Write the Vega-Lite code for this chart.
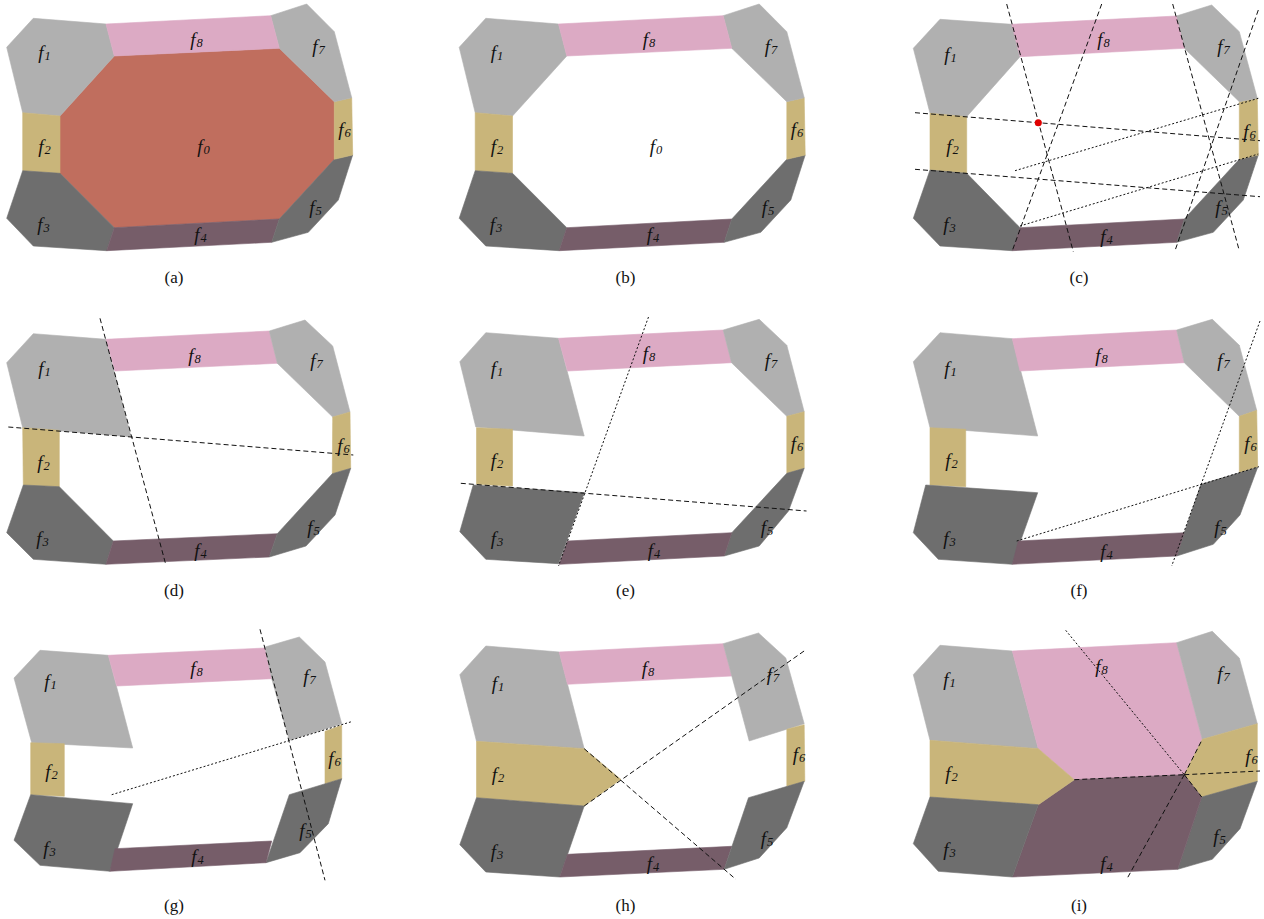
{
"$schema": "https://vega.github.io/schema/vega-lite/v6.json",
"padding": 0,
"background": "white",
"config": {"view": {"stroke": null},
  "header": {"labels": false, "labelExpr": "''", "labelFontSize": 0, "labelPadding": 0, "labelColor": "transparent", "title": null, "titleFontSize": 0, "titlePadding": 0},
  "headerFacet": {"labels": false, "labelExpr": "''", "labelFontSize": 0, "labelPadding": 0, "labelColor": "transparent", "titleFontSize": 0, "titlePadding": 0}},
"data": {"values": [
{"k":"P","p":"a","g":"f0","o":0,"x":114.3,"y":56},{"k":"P","p":"a","g":"f0","o":1,"x":279.3,"y":48.3},{"k":"P","p":"a","g":"f0","o":2,"x":334.3,"y":101.7},{"k":"P","p":"a","g":"f0","o":3,"x":334.3,"y":159.3},{"k":"P","p":"a","g":"f0","o":4,"x":279.3,"y":219},{"k":"P","p":"a","g":"f0","o":5,"x":114.3,"y":227.7},{"k":"P","p":"a","g":"f0","o":6,"x":60,"y":173.3},{"k":"P","p":"a","g":"f0","o":7,"x":60,"y":116},
{"k":"P","p":"a","g":"f1","o":0,"x":33.3,"y":18.3},{"k":"P","p":"a","g":"f1","o":1,"x":106,"y":24},{"k":"P","p":"a","g":"f1","o":2,"x":114.3,"y":56},{"k":"P","p":"a","g":"f1","o":3,"x":60,"y":116},{"k":"P","p":"a","g":"f1","o":4,"x":22.7,"y":112.7},{"k":"P","p":"a","g":"f1","o":5,"x":6.7,"y":47.3},
{"k":"P","p":"a","g":"f2","o":0,"x":22.7,"y":112.7},{"k":"P","p":"a","g":"f2","o":1,"x":60,"y":116},{"k":"P","p":"a","g":"f2","o":2,"x":60,"y":173.3},{"k":"P","p":"a","g":"f2","o":3,"x":22.7,"y":170.7},
{"k":"P","p":"a","g":"f3","o":0,"x":22.7,"y":170.7},{"k":"P","p":"a","g":"f3","o":1,"x":60,"y":173.3},{"k":"P","p":"a","g":"f3","o":2,"x":114.3,"y":227.7},{"k":"P","p":"a","g":"f3","o":3,"x":106.7,"y":250.7},{"k":"P","p":"a","g":"f3","o":4,"x":33.3,"y":246},{"k":"P","p":"a","g":"f3","o":5,"x":6.7,"y":218.3},
{"k":"P","p":"a","g":"f4","o":0,"x":114.3,"y":227.7},{"k":"P","p":"a","g":"f4","o":1,"x":279.3,"y":219},{"k":"P","p":"a","g":"f4","o":2,"x":271.7,"y":242.3},{"k":"P","p":"a","g":"f4","o":3,"x":106.7,"y":250.7},
{"k":"P","p":"a","g":"f5","o":0,"x":334.3,"y":159.3},{"k":"P","p":"a","g":"f5","o":1,"x":352.7,"y":155},{"k":"P","p":"a","g":"f5","o":2,"x":338.3,"y":200},{"k":"P","p":"a","g":"f5","o":3,"x":308.3,"y":232.3},{"k":"P","p":"a","g":"f5","o":4,"x":271.7,"y":242.3},{"k":"P","p":"a","g":"f5","o":5,"x":279.3,"y":219},
{"k":"P","p":"a","g":"f6","o":0,"x":334.3,"y":101.7},{"k":"P","p":"a","g":"f6","o":1,"x":351.7,"y":97.7},{"k":"P","p":"a","g":"f6","o":2,"x":352.7,"y":155},{"k":"P","p":"a","g":"f6","o":3,"x":334.3,"y":159.3},
{"k":"P","p":"a","g":"f7","o":0,"x":270.7,"y":15.7},{"k":"P","p":"a","g":"f7","o":1,"x":306.7,"y":4},{"k":"P","p":"a","g":"f7","o":2,"x":334.3,"y":31.7},{"k":"P","p":"a","g":"f7","o":3,"x":351.7,"y":97.7},{"k":"P","p":"a","g":"f7","o":4,"x":334.3,"y":101.7},{"k":"P","p":"a","g":"f7","o":5,"x":279.3,"y":48.3},
{"k":"P","p":"a","g":"f8","o":0,"x":106,"y":24},{"k":"P","p":"a","g":"f8","o":1,"x":270.7,"y":15.7},{"k":"P","p":"a","g":"f8","o":2,"x":279.3,"y":48.3},{"k":"P","p":"a","g":"f8","o":3,"x":114.3,"y":56},

{"k":"P","p":"b","g":"f1","o":0,"x":33.3,"y":18.3},{"k":"P","p":"b","g":"f1","o":1,"x":106,"y":24},{"k":"P","p":"b","g":"f1","o":2,"x":114.3,"y":56},{"k":"P","p":"b","g":"f1","o":3,"x":60,"y":116},{"k":"P","p":"b","g":"f1","o":4,"x":22.7,"y":112.7},{"k":"P","p":"b","g":"f1","o":5,"x":6.7,"y":47.3},
{"k":"P","p":"b","g":"f2","o":0,"x":22.7,"y":112.7},{"k":"P","p":"b","g":"f2","o":1,"x":60,"y":116},{"k":"P","p":"b","g":"f2","o":2,"x":60,"y":173.3},{"k":"P","p":"b","g":"f2","o":3,"x":22.7,"y":170.7},
{"k":"P","p":"b","g":"f3","o":0,"x":22.7,"y":170.7},{"k":"P","p":"b","g":"f3","o":1,"x":60,"y":173.3},{"k":"P","p":"b","g":"f3","o":2,"x":114.3,"y":227.7},{"k":"P","p":"b","g":"f3","o":3,"x":106.7,"y":250.7},{"k":"P","p":"b","g":"f3","o":4,"x":33.3,"y":246},{"k":"P","p":"b","g":"f3","o":5,"x":6.7,"y":218.3},
{"k":"P","p":"b","g":"f4","o":0,"x":114.3,"y":227.7},{"k":"P","p":"b","g":"f4","o":1,"x":279.3,"y":219},{"k":"P","p":"b","g":"f4","o":2,"x":271.7,"y":242.3},{"k":"P","p":"b","g":"f4","o":3,"x":106.7,"y":250.7},
{"k":"P","p":"b","g":"f5","o":0,"x":334.3,"y":159.3},{"k":"P","p":"b","g":"f5","o":1,"x":352.7,"y":155},{"k":"P","p":"b","g":"f5","o":2,"x":338.3,"y":200},{"k":"P","p":"b","g":"f5","o":3,"x":308.3,"y":232.3},{"k":"P","p":"b","g":"f5","o":4,"x":271.7,"y":242.3},{"k":"P","p":"b","g":"f5","o":5,"x":279.3,"y":219},
{"k":"P","p":"b","g":"f6","o":0,"x":334.3,"y":101.7},{"k":"P","p":"b","g":"f6","o":1,"x":351.7,"y":97.7},{"k":"P","p":"b","g":"f6","o":2,"x":352.7,"y":155},{"k":"P","p":"b","g":"f6","o":3,"x":334.3,"y":159.3},
{"k":"P","p":"b","g":"f7","o":0,"x":270.7,"y":15.7},{"k":"P","p":"b","g":"f7","o":1,"x":306.7,"y":4},{"k":"P","p":"b","g":"f7","o":2,"x":334.3,"y":31.7},{"k":"P","p":"b","g":"f7","o":3,"x":351.7,"y":97.7},{"k":"P","p":"b","g":"f7","o":4,"x":334.3,"y":101.7},{"k":"P","p":"b","g":"f7","o":5,"x":279.3,"y":48.3},
{"k":"P","p":"b","g":"f8","o":0,"x":106,"y":24},{"k":"P","p":"b","g":"f8","o":1,"x":270.7,"y":15.7},{"k":"P","p":"b","g":"f8","o":2,"x":279.3,"y":48.3},{"k":"P","p":"b","g":"f8","o":3,"x":114.3,"y":56},

{"k":"P","p":"c","g":"f1","o":0,"x":35,"y":19.3},{"k":"P","p":"c","g":"f1","o":1,"x":106.7,"y":24.3},{"k":"P","p":"c","g":"f1","o":2,"x":115,"y":56.7},{"k":"P","p":"c","g":"f1","o":3,"x":61.7,"y":116.7},{"k":"P","p":"c","g":"f1","o":4,"x":25,"y":113.3},{"k":"P","p":"c","g":"f1","o":5,"x":8.3,"y":48.3},
{"k":"P","p":"c","g":"f2","o":0,"x":25,"y":113.3},{"k":"P","p":"c","g":"f2","o":1,"x":61.7,"y":116.7},{"k":"P","p":"c","g":"f2","o":2,"x":61.7,"y":173.3},{"k":"P","p":"c","g":"f2","o":3,"x":25,"y":170},
{"k":"P","p":"c","g":"f3","o":0,"x":25,"y":170},{"k":"P","p":"c","g":"f3","o":1,"x":61.7,"y":173.3},{"k":"P","p":"c","g":"f3","o":2,"x":115,"y":227.7},{"k":"P","p":"c","g":"f3","o":3,"x":107.3,"y":250.7},{"k":"P","p":"c","g":"f3","o":4,"x":35,"y":246},{"k":"P","p":"c","g":"f3","o":5,"x":8.3,"y":218.3},
{"k":"P","p":"c","g":"f4","o":0,"x":115,"y":227.7},{"k":"P","p":"c","g":"f4","o":1,"x":279.3,"y":219},{"k":"P","p":"c","g":"f4","o":2,"x":271.7,"y":242.3},{"k":"P","p":"c","g":"f4","o":3,"x":107.3,"y":250.7},
{"k":"P","p":"c","g":"f5","o":0,"x":334.3,"y":159.3},{"k":"P","p":"c","g":"f5","o":1,"x":353.3,"y":155},{"k":"P","p":"c","g":"f5","o":2,"x":338.3,"y":200},{"k":"P","p":"c","g":"f5","o":3,"x":308.3,"y":232.3},{"k":"P","p":"c","g":"f5","o":4,"x":271.7,"y":242.3},{"k":"P","p":"c","g":"f5","o":5,"x":279.3,"y":219},
{"k":"P","p":"c","g":"f6","o":0,"x":334.3,"y":101.7},{"k":"P","p":"c","g":"f6","o":1,"x":352.3,"y":98.3},{"k":"P","p":"c","g":"f6","o":2,"x":353.3,"y":155},{"k":"P","p":"c","g":"f6","o":3,"x":334.3,"y":159.3},
{"k":"P","p":"c","g":"f7","o":0,"x":271.3,"y":16},{"k":"P","p":"c","g":"f7","o":1,"x":306.7,"y":5},{"k":"P","p":"c","g":"f7","o":2,"x":334.3,"y":31.7},{"k":"P","p":"c","g":"f7","o":3,"x":352.3,"y":98.3},{"k":"P","p":"c","g":"f7","o":4,"x":334.3,"y":101.7},{"k":"P","p":"c","g":"f7","o":5,"x":279.3,"y":48.3},
{"k":"P","p":"c","g":"f8","o":0,"x":106.7,"y":24.3},{"k":"P","p":"c","g":"f8","o":1,"x":271.3,"y":16},{"k":"P","p":"c","g":"f8","o":2,"x":279.3,"y":48.3},{"k":"P","p":"c","g":"f8","o":3,"x":115,"y":56.7},

{"k":"P","p":"d","g":"f1","o":0,"x":33.3,"y":22.7},{"k":"P","p":"d","g":"f1","o":1,"x":106,"y":28.3},{"k":"P","p":"d","g":"f1","o":2,"x":131,"y":125.7},{"k":"P","p":"d","g":"f1","o":3,"x":22.7,"y":116.7},{"k":"P","p":"d","g":"f1","o":4,"x":6.7,"y":51.7},
{"k":"P","p":"d","g":"f8","o":0,"x":106,"y":28.3},{"k":"P","p":"d","g":"f8","o":1,"x":269.3,"y":20},{"k":"P","p":"d","g":"f8","o":2,"x":277.3,"y":52.3},{"k":"P","p":"d","g":"f8","o":3,"x":115,"y":60},
{"k":"P","p":"d","g":"f7","o":0,"x":269.3,"y":20},{"k":"P","p":"d","g":"f7","o":1,"x":305,"y":9},{"k":"P","p":"d","g":"f7","o":2,"x":332.7,"y":35},{"k":"P","p":"d","g":"f7","o":3,"x":350,"y":101},{"k":"P","p":"d","g":"f7","o":4,"x":332.7,"y":106},{"k":"P","p":"d","g":"f7","o":5,"x":277.3,"y":52.3},
{"k":"P","p":"d","g":"f6","o":0,"x":332.7,"y":106},{"k":"P","p":"d","g":"f6","o":1,"x":350,"y":101},{"k":"P","p":"d","g":"f6","o":2,"x":350.7,"y":157.3},{"k":"P","p":"d","g":"f6","o":3,"x":332.3,"y":162.7},
{"k":"P","p":"d","g":"f2","o":0,"x":22.7,"y":116.7},{"k":"P","p":"d","g":"f2","o":1,"x":59.3,"y":119.3},{"k":"P","p":"d","g":"f2","o":2,"x":59.3,"y":175.7},{"k":"P","p":"d","g":"f2","o":3,"x":23.3,"y":174},
{"k":"P","p":"d","g":"f3","o":0,"x":23.3,"y":174},{"k":"P","p":"d","g":"f3","o":1,"x":59.3,"y":175.7},{"k":"P","p":"d","g":"f3","o":2,"x":113.3,"y":230},{"k":"P","p":"d","g":"f3","o":3,"x":106,"y":253.3},{"k":"P","p":"d","g":"f3","o":4,"x":33.3,"y":248.3},{"k":"P","p":"d","g":"f3","o":5,"x":6.7,"y":221.7},
{"k":"P","p":"d","g":"f4","o":0,"x":113.3,"y":230},{"k":"P","p":"d","g":"f4","o":1,"x":277.3,"y":222.7},{"k":"P","p":"d","g":"f4","o":2,"x":269.3,"y":246},{"k":"P","p":"d","g":"f4","o":3,"x":106,"y":253.3},
{"k":"P","p":"d","g":"f5","o":0,"x":332.3,"y":162.7},{"k":"P","p":"d","g":"f5","o":1,"x":350.7,"y":157.3},{"k":"P","p":"d","g":"f5","o":2,"x":335,"y":204},{"k":"P","p":"d","g":"f5","o":3,"x":306,"y":235},{"k":"P","p":"d","g":"f5","o":4,"x":269.3,"y":246},{"k":"P","p":"d","g":"f5","o":5,"x":277.3,"y":222.7},

{"k":"P","p":"e","g":"f1","o":0,"x":33.3,"y":21.7},{"k":"P","p":"e","g":"f1","o":1,"x":106,"y":27.3},{"k":"P","p":"e","g":"f1","o":2,"x":131.7,"y":125},{"k":"P","p":"e","g":"f1","o":3,"x":23.3,"y":116},{"k":"P","p":"e","g":"f1","o":4,"x":7.3,"y":50.7},
{"k":"P","p":"e","g":"f8","o":0,"x":106,"y":27.3},{"k":"P","p":"e","g":"f8","o":1,"x":270.7,"y":19},{"k":"P","p":"e","g":"f8","o":2,"x":279,"y":51.7},{"k":"P","p":"e","g":"f8","o":3,"x":115,"y":60},
{"k":"P","p":"e","g":"f7","o":0,"x":270.7,"y":19},{"k":"P","p":"e","g":"f7","o":1,"x":306.7,"y":8.3},{"k":"P","p":"e","g":"f7","o":2,"x":334.3,"y":34.3},{"k":"P","p":"e","g":"f7","o":3,"x":351.7,"y":100.7},{"k":"P","p":"e","g":"f7","o":4,"x":334.3,"y":105.3},{"k":"P","p":"e","g":"f7","o":5,"x":279,"y":51.7},
{"k":"P","p":"e","g":"f6","o":0,"x":334.3,"y":105.3},{"k":"P","p":"e","g":"f6","o":1,"x":351.7,"y":100.7},{"k":"P","p":"e","g":"f6","o":2,"x":351.7,"y":157.3},{"k":"P","p":"e","g":"f6","o":3,"x":334.3,"y":162.3},
{"k":"P","p":"e","g":"f5","o":0,"x":334.3,"y":162.3},{"k":"P","p":"e","g":"f5","o":1,"x":351.7,"y":157.3},{"k":"P","p":"e","g":"f5","o":2,"x":336,"y":200},{"k":"P","p":"e","g":"f5","o":3,"x":306.7,"y":235},{"k":"P","p":"e","g":"f5","o":4,"x":271.7,"y":245},{"k":"P","p":"e","g":"f5","o":5,"x":279.3,"y":221.7},
{"k":"P","p":"e","g":"f2","o":0,"x":24,"y":116.7},{"k":"P","p":"e","g":"f2","o":1,"x":60,"y":118.3},{"k":"P","p":"e","g":"f2","o":2,"x":60,"y":175},{"k":"P","p":"e","g":"f2","o":3,"x":24,"y":173.3},
{"k":"P","p":"e","g":"f3","o":0,"x":20.7,"y":174},{"k":"P","p":"e","g":"f3","o":1,"x":131.7,"y":181.7},{"k":"P","p":"e","g":"f3","o":2,"x":106,"y":252.7},{"k":"P","p":"e","g":"f3","o":3,"x":33.3,"y":248.3},{"k":"P","p":"e","g":"f3","o":4,"x":7.3,"y":220.7},
{"k":"P","p":"e","g":"f4","o":0,"x":115,"y":230},{"k":"P","p":"e","g":"f4","o":1,"x":279.3,"y":221.7},{"k":"P","p":"e","g":"f4","o":2,"x":271.7,"y":245},{"k":"P","p":"e","g":"f4","o":3,"x":106.7,"y":253.3},

{"k":"P","p":"f","g":"f1","o":0,"x":35,"y":21.7},{"k":"P","p":"f","g":"f1","o":1,"x":107.3,"y":27.7},{"k":"P","p":"f","g":"f1","o":2,"x":132.7,"y":125},{"k":"P","p":"f","g":"f1","o":3,"x":25,"y":116.7},{"k":"P","p":"f","g":"f1","o":4,"x":8.3,"y":50.7},
{"k":"P","p":"f","g":"f8","o":0,"x":107.3,"y":27.7},{"k":"P","p":"f","g":"f8","o":1,"x":271.7,"y":19},{"k":"P","p":"f","g":"f8","o":2,"x":279.3,"y":51.7},{"k":"P","p":"f","g":"f8","o":3,"x":115,"y":60},
{"k":"P","p":"f","g":"f7","o":0,"x":271.7,"y":19},{"k":"P","p":"f","g":"f7","o":1,"x":307.3,"y":8.3},{"k":"P","p":"f","g":"f7","o":2,"x":334.3,"y":34.3},{"k":"P","p":"f","g":"f7","o":3,"x":351.7,"y":99.3},{"k":"P","p":"f","g":"f7","o":4,"x":334.3,"y":105.3},{"k":"P","p":"f","g":"f7","o":5,"x":279.3,"y":51.7},
{"k":"P","p":"f","g":"f6","o":0,"x":334.3,"y":105.3},{"k":"P","p":"f","g":"f6","o":1,"x":351.7,"y":99.3},{"k":"P","p":"f","g":"f6","o":2,"x":352.7,"y":156},{"k":"P","p":"f","g":"f6","o":3,"x":334.3,"y":161.7},
{"k":"P","p":"f","g":"f5","o":0,"x":296,"y":173.3},{"k":"P","p":"f","g":"f5","o":1,"x":352.7,"y":156.3},{"k":"P","p":"f","g":"f5","o":2,"x":335,"y":204},{"k":"P","p":"f","g":"f5","o":3,"x":308.3,"y":233.3},{"k":"P","p":"f","g":"f5","o":4,"x":271.7,"y":245},{"k":"P","p":"f","g":"f5","o":5,"x":279.3,"y":221.7},
{"k":"P","p":"f","g":"f2","o":0,"x":25,"y":116.7},{"k":"P","p":"f","g":"f2","o":1,"x":60.7,"y":118.3},{"k":"P","p":"f","g":"f2","o":2,"x":60.7,"y":175.7},{"k":"P","p":"f","g":"f2","o":3,"x":25,"y":174},
{"k":"P","p":"f","g":"f3","o":0,"x":20.7,"y":174},{"k":"P","p":"f","g":"f3","o":1,"x":132.7,"y":181.7},{"k":"P","p":"f","g":"f3","o":2,"x":107.3,"y":253.3},{"k":"P","p":"f","g":"f3","o":3,"x":33.3,"y":248.3},{"k":"P","p":"f","g":"f3","o":4,"x":8.3,"y":221.7},
{"k":"P","p":"f","g":"f4","o":0,"x":113.3,"y":230},{"k":"P","p":"f","g":"f4","o":1,"x":279.3,"y":221.7},{"k":"P","p":"f","g":"f4","o":2,"x":271.7,"y":245},{"k":"P","p":"f","g":"f4","o":3,"x":107.3,"y":253.3},

{"k":"P","p":"g","g":"f1","o":0,"x":40,"y":28.3},{"k":"P","p":"g","g":"f1","o":1,"x":108.3,"y":33.3},{"k":"P","p":"g","g":"f1","o":2,"x":132.7,"y":126},{"k":"P","p":"g","g":"f1","o":3,"x":31.7,"y":120.7},{"k":"P","p":"g","g":"f1","o":4,"x":14,"y":56},
{"k":"P","p":"g","g":"f8","o":0,"x":108.3,"y":33.3},{"k":"P","p":"g","g":"f8","o":1,"x":265,"y":26},{"k":"P","p":"g","g":"f8","o":2,"x":271.7,"y":56.7},{"k":"P","p":"g","g":"f8","o":3,"x":116.7,"y":64},
{"k":"P","p":"g","g":"f7","o":0,"x":265,"y":25},{"k":"P","p":"g","g":"f7","o":1,"x":299.3,"y":15},{"k":"P","p":"g","g":"f7","o":2,"x":325,"y":40},{"k":"P","p":"g","g":"f7","o":3,"x":341.7,"y":101.7},{"k":"P","p":"g","g":"f7","o":4,"x":289.3,"y":118.3},{"k":"P","p":"g","g":"f7","o":5,"x":271.7,"y":56.7},
{"k":"P","p":"g","g":"f6","o":0,"x":325,"y":109.3},{"k":"P","p":"g","g":"f6","o":1,"x":341.7,"y":103.3},{"k":"P","p":"g","g":"f6","o":2,"x":341.7,"y":156.7},{"k":"P","p":"g","g":"f6","o":3,"x":325,"y":161.7},
{"k":"P","p":"g","g":"f5","o":0,"x":289.3,"y":172.7},{"k":"P","p":"g","g":"f5","o":1,"x":341.7,"y":156.7},{"k":"P","p":"g","g":"f5","o":2,"x":328.3,"y":201.7},{"k":"P","p":"g","g":"f5","o":3,"x":300,"y":230.7},{"k":"P","p":"g","g":"f5","o":4,"x":266,"y":240.7},
{"k":"P","p":"g","g":"f2","o":0,"x":30.7,"y":120.7},{"k":"P","p":"g","g":"f2","o":1,"x":64.3,"y":121.7},{"k":"P","p":"g","g":"f2","o":2,"x":64.3,"y":174.3},{"k":"P","p":"g","g":"f2","o":3,"x":30.7,"y":172.7},
{"k":"P","p":"g","g":"f3","o":0,"x":30.7,"y":172.7},{"k":"P","p":"g","g":"f3","o":1,"x":132.7,"y":181.7},{"k":"P","p":"g","g":"f3","o":2,"x":110,"y":249.3},{"k":"P","p":"g","g":"f3","o":3,"x":40,"y":243.3},{"k":"P","p":"g","g":"f3","o":4,"x":14,"y":218.3},
{"k":"P","p":"g","g":"f4","o":0,"x":115,"y":226.7},{"k":"P","p":"g","g":"f4","o":1,"x":271.7,"y":219},{"k":"P","p":"g","g":"f4","o":2,"x":266,"y":240.7},{"k":"P","p":"g","g":"f4","o":3,"x":110,"y":249.3},

{"k":"P","p":"h","g":"f1","o":0,"x":33.3,"y":24},{"k":"P","p":"h","g":"f1","o":1,"x":106.7,"y":30},{"k":"P","p":"h","g":"f1","o":2,"x":131.7,"y":126.7},{"k":"P","p":"h","g":"f1","o":3,"x":24,"y":119.3},{"k":"P","p":"h","g":"f1","o":4,"x":7.3,"y":52.7},
{"k":"P","p":"h","g":"f8","o":0,"x":106.7,"y":30},{"k":"P","p":"h","g":"f8","o":1,"x":270.7,"y":21.7},{"k":"P","p":"h","g":"f8","o":2,"x":279.3,"y":54},{"k":"P","p":"h","g":"f8","o":3,"x":115,"y":62.3},
{"k":"P","p":"h","g":"f7","o":0,"x":270.7,"y":21.7},{"k":"P","p":"h","g":"f7","o":1,"x":306,"y":11},{"k":"P","p":"h","g":"f7","o":2,"x":333.3,"y":36},{"k":"P","p":"h","g":"f7","o":3,"x":351.7,"y":101.7},{"k":"P","p":"h","g":"f7","o":4,"x":296.7,"y":119},{"k":"P","p":"h","g":"f7","o":5,"x":279.3,"y":54},
{"k":"P","p":"h","g":"f6","o":0,"x":334.3,"y":107.3},{"k":"P","p":"h","g":"f6","o":1,"x":351.7,"y":102.7},{"k":"P","p":"h","g":"f6","o":2,"x":352.3,"y":159.3},{"k":"P","p":"h","g":"f6","o":3,"x":334.3,"y":164.3},
{"k":"P","p":"h","g":"f2","o":0,"x":24,"y":119.3},{"k":"P","p":"h","g":"f2","o":1,"x":131.7,"y":126.7},{"k":"P","p":"h","g":"f2","o":2,"x":168.3,"y":157.3},{"k":"P","p":"h","g":"f2","o":3,"x":131.7,"y":184},{"k":"P","p":"h","g":"f2","o":4,"x":24,"y":175.7},
{"k":"P","p":"h","g":"f3","o":0,"x":24,"y":175.7},{"k":"P","p":"h","g":"f3","o":1,"x":131.7,"y":184},{"k":"P","p":"h","g":"f3","o":2,"x":107.3,"y":255},{"k":"P","p":"h","g":"f3","o":3,"x":33.3,"y":250},{"k":"P","p":"h","g":"f3","o":4,"x":7.3,"y":222.7},
{"k":"P","p":"h","g":"f4","o":0,"x":115,"y":232.3},{"k":"P","p":"h","g":"f4","o":1,"x":279.3,"y":224.3},{"k":"P","p":"h","g":"f4","o":2,"x":271.7,"y":247.3},{"k":"P","p":"h","g":"f4","o":3,"x":107.3,"y":255},
{"k":"P","p":"h","g":"f5","o":0,"x":296,"y":175.7},{"k":"P","p":"h","g":"f5","o":1,"x":351.7,"y":159.3},{"k":"P","p":"h","g":"f5","o":2,"x":334.3,"y":205.7},{"k":"P","p":"h","g":"f5","o":3,"x":306.7,"y":236},{"k":"P","p":"h","g":"f5","o":4,"x":271.7,"y":247.3},

{"k":"P","p":"i","g":"f1","o":0,"x":35,"y":23.3},{"k":"P","p":"i","g":"f1","o":1,"x":107.3,"y":29},{"k":"P","p":"i","g":"f1","o":2,"x":133.3,"y":126.7},{"k":"P","p":"i","g":"f1","o":3,"x":25,"y":118.3},{"k":"P","p":"i","g":"f1","o":4,"x":8.3,"y":52.7},
{"k":"P","p":"i","g":"f8","o":0,"x":107.3,"y":29},{"k":"P","p":"i","g":"f8","o":1,"x":271.7,"y":20.7},{"k":"P","p":"i","g":"f8","o":2,"x":297.3,"y":117.3},{"k":"P","p":"i","g":"f8","o":3,"x":279.3,"y":152.7},{"k":"P","p":"i","g":"f8","o":4,"x":169.3,"y":157.7},{"k":"P","p":"i","g":"f8","o":5,"x":133.3,"y":126.7},
{"k":"P","p":"i","g":"f7","o":0,"x":271.7,"y":20.7},{"k":"P","p":"i","g":"f7","o":1,"x":307.3,"y":9.3},{"k":"P","p":"i","g":"f7","o":2,"x":334.3,"y":36},{"k":"P","p":"i","g":"f7","o":3,"x":352.3,"y":101.7},{"k":"P","p":"i","g":"f7","o":4,"x":297.3,"y":117.3},
{"k":"P","p":"i","g":"f6","o":0,"x":297.3,"y":117.3},{"k":"P","p":"i","g":"f6","o":1,"x":352.3,"y":101.7},{"k":"P","p":"i","g":"f6","o":2,"x":352.3,"y":159.3},{"k":"P","p":"i","g":"f6","o":3,"x":296.7,"y":175},{"k":"P","p":"i","g":"f6","o":4,"x":279.3,"y":152.7},
{"k":"P","p":"i","g":"f5","o":0,"x":296.7,"y":175},{"k":"P","p":"i","g":"f5","o":1,"x":352.3,"y":159.3},{"k":"P","p":"i","g":"f5","o":2,"x":335,"y":206.7},{"k":"P","p":"i","g":"f5","o":3,"x":307.3,"y":237.3},{"k":"P","p":"i","g":"f5","o":4,"x":272.7,"y":247.3},
{"k":"P","p":"i","g":"f4","o":0,"x":169.3,"y":157.7},{"k":"P","p":"i","g":"f4","o":1,"x":279.3,"y":152.7},{"k":"P","p":"i","g":"f4","o":2,"x":296.7,"y":175},{"k":"P","p":"i","g":"f4","o":3,"x":272.7,"y":247.3},{"k":"P","p":"i","g":"f4","o":4,"x":107.3,"y":255},{"k":"P","p":"i","g":"f4","o":5,"x":133.3,"y":182.7},
{"k":"P","p":"i","g":"f2","o":0,"x":25,"y":118.3},{"k":"P","p":"i","g":"f2","o":1,"x":133.3,"y":126.7},{"k":"P","p":"i","g":"f2","o":2,"x":169.3,"y":157.7},{"k":"P","p":"i","g":"f2","o":3,"x":133.3,"y":182.7},{"k":"P","p":"i","g":"f2","o":4,"x":25,"y":175},
{"k":"P","p":"i","g":"f3","o":0,"x":25,"y":175},{"k":"P","p":"i","g":"f3","o":1,"x":133.3,"y":182.7},{"k":"P","p":"i","g":"f3","o":2,"x":107.3,"y":255},{"k":"P","p":"i","g":"f3","o":3,"x":33.3,"y":249.3},{"k":"P","p":"i","g":"f3","o":4,"x":8.3,"y":221.7},

{"k":"L","p":"c","g":"c1","d":"dash","o":0,"x":101.7,"y":4},{"k":"L","p":"c","g":"c1","d":"dash","o":1,"x":168.3,"y":251.7},
{"k":"L","p":"c","g":"c2","d":"dash","o":0,"x":196.7,"y":4},{"k":"L","p":"c","g":"c2","d":"dash","o":1,"x":107.3,"y":250.7},
{"k":"L","p":"c","g":"c3","d":"dash","o":0,"x":267.7,"y":4},{"k":"L","p":"c","g":"c3","d":"dash","o":1,"x":334.3,"y":250.7},
{"k":"L","p":"c","g":"c4","d":"dash","o":0,"x":353.3,"y":10},{"k":"L","p":"c","g":"c4","d":"dash","o":1,"x":270,"y":250.7},
{"k":"L","p":"c","g":"c5","d":"dash","o":0,"x":10,"y":112.7},{"k":"L","p":"c","g":"c5","d":"dash","o":1,"x":355,"y":140.7},
{"k":"L","p":"c","g":"c6","d":"dash","o":0,"x":10,"y":169.3},{"k":"L","p":"c","g":"c6","d":"dash","o":1,"x":355,"y":196.7},
{"k":"L","p":"c","g":"c7","d":"dot","o":0,"x":110,"y":170.7},{"k":"L","p":"c","g":"c7","d":"dot","o":1,"x":353.3,"y":98.3},
{"k":"L","p":"c","g":"c8","d":"dot","o":0,"x":115,"y":226},{"k":"L","p":"c","g":"c8","d":"dot","o":1,"x":353.3,"y":154},
{"k":"L","p":"d","g":"d1","d":"dash","o":0,"x":100,"y":7.3},{"k":"L","p":"d","g":"d1","d":"dash","o":1,"x":165.7,"y":253.3},
{"k":"L","p":"d","g":"d2","d":"dash","o":0,"x":8.3,"y":116},{"k":"L","p":"d","g":"d2","d":"dash","o":1,"x":353.3,"y":144},
{"k":"L","p":"e","g":"e1","d":"dot","o":0,"x":196,"y":6},{"k":"L","p":"e","g":"e1","d":"dot","o":1,"x":106,"y":255},
{"k":"L","p":"e","g":"e2","d":"dash","o":0,"x":8.3,"y":172.3},{"k":"L","p":"e","g":"e2","d":"dash","o":1,"x":354,"y":200},
{"k":"L","p":"f","g":"f1","d":"dot","o":0,"x":355,"y":10},{"k":"L","p":"f","g":"f1","d":"dot","o":1,"x":266.7,"y":255},
{"k":"L","p":"f","g":"f2","d":"dot","o":0,"x":111.7,"y":230},{"k":"L","p":"f","g":"f2","d":"dot","o":1,"x":354,"y":155.7},
{"k":"L","p":"g","g":"g1","d":"dash","o":0,"x":260,"y":7.3},{"k":"L","p":"g","g":"g1","d":"dash","o":1,"x":325,"y":258.3},
{"k":"L","p":"g","g":"g2","d":"dot","o":0,"x":111.7,"y":172.7},{"k":"L","p":"g","g":"g2","d":"dot","o":1,"x":352.7,"y":99.3},
{"k":"L","p":"h","g":"h1","d":"dash","o":0,"x":131.7,"y":126.7},{"k":"L","p":"h","g":"h1","d":"dash","o":1,"x":283.3,"y":257.3},
{"k":"L","p":"h","g":"h2","d":"dash","o":0,"x":131.7,"y":184},{"k":"L","p":"h","g":"h2","d":"dash","o":1,"x":354,"y":27.3},
{"k":"L","p":"i","g":"i1","d":"dot","o":0,"x":160.7,"y":8.3},{"k":"L","p":"i","g":"i1","d":"dot","o":1,"x":279.3,"y":152.7},
{"k":"L","p":"i","g":"i2","d":"dash","o":0,"x":169.3,"y":157.7},{"k":"L","p":"i","g":"i2","d":"dash","o":1,"x":279.3,"y":152.7},
{"k":"L","p":"i","g":"i3","d":"dash","o":0,"x":279.3,"y":152.7},{"k":"L","p":"i","g":"i3","d":"dash","o":1,"x":355,"y":149},
{"k":"L","p":"i","g":"i4","d":"dash","o":0,"x":279.3,"y":152.7},{"k":"L","p":"i","g":"i4","d":"dash","o":1,"x":221.7,"y":257.3},
{"k":"L","p":"i","g":"i5","d":"dash","o":0,"x":279.3,"y":152.7},{"k":"L","p":"i","g":"i5","d":"dash","o":1,"x":297.3,"y":117.3},
{"k":"L","p":"i","g":"i6","d":"dash","o":0,"x":279.3,"y":152.7},{"k":"L","p":"i","g":"i6","d":"dash","o":1,"x":296.7,"y":175},

{"k":"D","p":"c","x":133.3,"y":122.7},

{"k":"T","p":"a","n":"1","x":43,"y":53},{"k":"T","p":"a","n":"8","x":195,"y":40},{"k":"T","p":"a","n":"7","x":317,"y":47},{"k":"T","p":"a","n":"6","x":343,"y":130},{"k":"T","p":"a","n":"2","x":43,"y":147},{"k":"T","p":"a","n":"0","x":202,"y":147},{"k":"T","p":"a","n":"3","x":42,"y":225},{"k":"T","p":"a","n":"4","x":199,"y":235},{"k":"T","p":"a","n":"5","x":314,"y":208},
{"k":"T","p":"b","n":"1","x":43,"y":53},{"k":"T","p":"b","n":"8","x":195,"y":40},{"k":"T","p":"b","n":"7","x":317,"y":47},{"k":"T","p":"b","n":"6","x":343,"y":130},{"k":"T","p":"b","n":"2","x":43,"y":147},{"k":"T","p":"b","n":"0","x":202,"y":147},{"k":"T","p":"b","n":"3","x":42,"y":225},{"k":"T","p":"b","n":"4","x":199,"y":235},{"k":"T","p":"b","n":"5","x":314,"y":208},
{"k":"T","p":"c","n":"1","x":44,"y":55},{"k":"T","p":"c","n":"8","x":197,"y":40},{"k":"T","p":"c","n":"7","x":317,"y":47},{"k":"T","p":"c","n":"6","x":343,"y":132},{"k":"T","p":"c","n":"2","x":46,"y":147},{"k":"T","p":"c","n":"3","x":43,"y":225},{"k":"T","p":"c","n":"4","x":200,"y":237},{"k":"T","p":"c","n":"5","x":315,"y":208},
{"k":"T","p":"d","n":"1","x":43,"y":58},{"k":"T","p":"d","n":"8","x":193,"y":45},{"k":"T","p":"d","n":"7","x":315,"y":50},{"k":"T","p":"d","n":"6","x":342,"y":135},{"k":"T","p":"d","n":"2","x":42,"y":152},{"k":"T","p":"d","n":"3","x":41,"y":228},{"k":"T","p":"d","n":"4","x":199,"y":240},{"k":"T","p":"d","n":"5","x":312,"y":217},
{"k":"T","p":"e","n":"1","x":43,"y":58},{"k":"T","p":"e","n":"8","x":195,"y":43},{"k":"T","p":"e","n":"7","x":317,"y":50},{"k":"T","p":"e","n":"6","x":343,"y":133},{"k":"T","p":"e","n":"2","x":43,"y":150},{"k":"T","p":"e","n":"3","x":43,"y":228},{"k":"T","p":"e","n":"4","x":200,"y":240},{"k":"T","p":"e","n":"5","x":313,"y":217},
{"k":"T","p":"f","n":"1","x":44,"y":58},{"k":"T","p":"f","n":"8","x":195,"y":45},{"k":"T","p":"f","n":"7","x":317,"y":50},{"k":"T","p":"f","n":"6","x":344,"y":133},{"k":"T","p":"f","n":"2","x":45,"y":150},{"k":"T","p":"f","n":"3","x":43,"y":228},{"k":"T","p":"f","n":"4","x":200,"y":241},{"k":"T","p":"f","n":"5","x":314,"y":217},
{"k":"T","p":"g","n":"1","x":49,"y":60},{"k":"T","p":"g","n":"8","x":195,"y":47},{"k":"T","p":"g","n":"7","x":308,"y":55},{"k":"T","p":"g","n":"6","x":333,"y":137},{"k":"T","p":"g","n":"2","x":50,"y":150},{"k":"T","p":"g","n":"3","x":48,"y":227},{"k":"T","p":"g","n":"4","x":196,"y":235},{"k":"T","p":"g","n":"5","x":304,"y":209},
{"k":"T","p":"h","n":"1","x":44,"y":62},{"k":"T","p":"h","n":"8","x":194,"y":47},{"k":"T","p":"h","n":"7","x":319,"y":53},{"k":"T","p":"h","n":"6","x":345,"y":133},{"k":"T","p":"h","n":"2","x":44,"y":153},{"k":"T","p":"h","n":"3","x":43,"y":230},{"k":"T","p":"h","n":"4","x":199,"y":242},{"k":"T","p":"h","n":"5","x":313,"y":217},
{"k":"T","p":"i","n":"1","x":43,"y":58},{"k":"T","p":"i","n":"8","x":195,"y":45},{"k":"T","p":"i","n":"7","x":317,"y":52},{"k":"T","p":"i","n":"6","x":345,"y":135},{"k":"T","p":"i","n":"2","x":45,"y":152},{"k":"T","p":"i","n":"3","x":43,"y":228},{"k":"T","p":"i","n":"4","x":200,"y":242},{"k":"T","p":"i","n":"5","x":313,"y":215},

{"k":"C","p":"a","t":"(a)","x":174,"y":278},{"k":"C","p":"b","t":"(b)","x":173,"y":278},{"k":"C","p":"c","t":"(c)","x":174,"y":278},
{"k":"C","p":"d","t":"(d)","x":174,"y":280},{"k":"C","p":"e","t":"(e)","x":173,"y":280},{"k":"C","p":"f","t":"(f)","x":174,"y":280},
{"k":"C","p":"g","t":"(g)","x":174,"y":284},{"k":"C","p":"h","t":"(h)","x":173,"y":284},{"k":"C","p":"i","t":"(i)","x":174,"y":284}
]},
"columns": 3,
"spacing": {"row": 16, "column": 93.5},
"facet": {"field": "p", "type": "nominal", "title": null, "header": {"labels": false, "labelExpr": "''", "labelFontSize": 0, "labelPadding": 0, "labelColor": "transparent", "title": null}},
"spec": {
 "width": 359,
 "height": 295,
 "layer": [
  {
   "transform": [{"filter": "datum.k == 'P'"}],
   "mark": {"type": "line", "filled": true, "interpolate": "linear-closed", "strokeWidth": 0.6, "clip": false},
   "encoding": {
    "x": {"field": "x", "type": "quantitative", "scale": {"domain": [0, 359], "nice": false, "zero": false}, "axis": null},
    "y": {"field": "y", "type": "quantitative", "scale": {"domain": [0, 295], "nice": false, "zero": false, "reverse": true}, "axis": null},
    "detail": {"field": "g"},
    "order": {"field": "o", "type": "quantitative"},
    "color": {"field": "g", "type": "nominal", "legend": null,
      "scale": {"domain": ["f0","f1","f2","f3","f4","f5","f6","f7","f8"], "range": ["#c06e5e","#b0b0b0","#c9b57a","#6e6e6e","#765d69","#6e6e6e","#c9b57a","#b0b0b0","#dcaac4"]}},
    "stroke": {"field": "g", "type": "nominal", "legend": null,
      "scale": {"domain": ["f0","f1","f2","f3","f4","f5","f6","f7","f8"], "range": ["#c06e5e","#b0b0b0","#c9b57a","#6e6e6e","#765d69","#6e6e6e","#c9b57a","#b0b0b0","#dcaac4"]}}
   }
  },
  {
   "transform": [{"filter": "datum.k == 'L'"}],
   "mark": {"type": "line", "color": "#111111", "strokeWidth": 1, "clip": false},
   "encoding": {
    "x": {"field": "x", "type": "quantitative", "axis": null},
    "y": {"field": "y", "type": "quantitative", "axis": null},
    "detail": {"field": "g"},
    "order": {"field": "o", "type": "quantitative"},
    "strokeDash": {"field": "d", "type": "nominal", "legend": null, "scale": {"domain": ["dash", "dot"], "range": [[5, 3], [2, 2]]}}
   }
  },
  {
   "transform": [{"filter": "datum.k == 'D'"}],
   "mark": {"type": "point", "filled": true, "color": "#e00000", "size": 50, "opacity": 1},
   "encoding": {
    "x": {"field": "x", "type": "quantitative", "axis": null},
    "y": {"field": "y", "type": "quantitative", "axis": null}
   }
  },
  {
   "transform": [{"filter": "datum.k == 'T'"}],
   "mark": {"type": "text", "text": "f", "font": "Liberation Serif", "fontStyle": "italic", "fontSize": 19, "align": "center", "baseline": "middle", "dx": -2, "dy": 0, "color": "#111111"},
   "encoding": {
    "x": {"field": "x", "type": "quantitative", "axis": null},
    "y": {"field": "y", "type": "quantitative", "axis": null}
   }
  },
  {
   "transform": [{"filter": "datum.k == 'T'"}],
   "mark": {"type": "text", "font": "Liberation Serif", "fontStyle": "italic", "fontSize": 12.5, "align": "center", "baseline": "middle", "dx": 4.5, "dy": 3, "color": "#111111"},
   "encoding": {
    "x": {"field": "x", "type": "quantitative", "axis": null},
    "y": {"field": "y", "type": "quantitative", "axis": null},
    "text": {"field": "n"}
   }
  },
  {
   "transform": [{"filter": "datum.k == 'C'"}],
   "mark": {"type": "text", "font": "Liberation Serif", "fontSize": 17, "align": "center", "baseline": "middle", "color": "#111111"},
   "encoding": {
    "x": {"field": "x", "type": "quantitative", "axis": null},
    "y": {"field": "y", "type": "quantitative", "axis": null},
    "text": {"field": "t"}
   }
  }
 ]
}
}
